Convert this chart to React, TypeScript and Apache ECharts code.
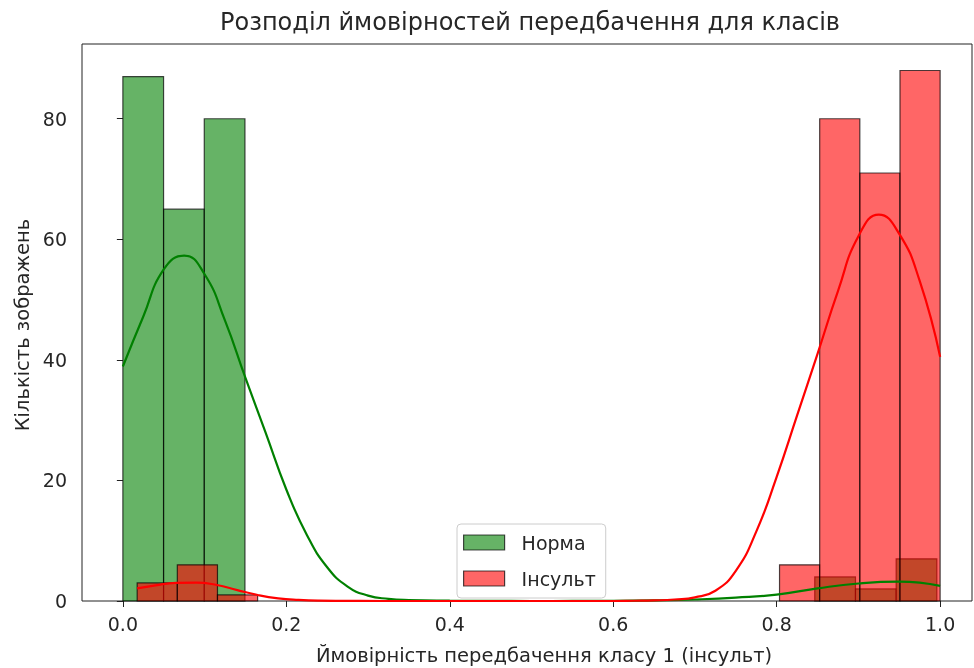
import React, { useEffect, useRef } from "react";
import * as echarts from "echarts";

// Histogram bins (counts) per class
const greenBinStart = 0;
const greenBinWidth = 0.0498;
const greenCounts = [87, 65, 80, 0, 0, 0, 0, 0, 0, 0, 0, 0, 0, 0, 0, 0, 0, 4, 2, 7];

const redBinStart = 0.0175;
const redBinWidth = 0.049125;
const redCounts = [3, 6, 1, 0, 0, 0, 0, 0, 0, 0, 0, 0, 0, 0, 0, 0, 6, 80, 71, 88];

// KDE curves
const greenKde: [number, number][] = [
  [0, 38.9], [0.025, 47.2], [0.05, 55.0], [0.075, 57.3], [0.1, 54.2], [0.125, 46.5],
  [0.15, 37.0], [0.175, 27.8], [0.2, 18.5], [0.225, 11.0], [0.25, 5.6], [0.275, 2.4],
  [0.3, 0.9], [0.325, 0.35], [0.35, 0.15], [0.4, 0.05], [0.45, 0.02], [0.5, 0], [0.55, 0.01],
  [0.6, 0.03], [0.65, 0.1], [0.7, 0.25], [0.75, 0.55], [0.8, 1.05], [0.85, 2.1], [0.9, 2.9],
  [0.95, 3.2], [1.0, 2.5],
];
const redKde: [number, number][] = [
  [0.0175, 2.1], [0.04, 2.6], [0.065, 3.0], [0.09, 3.05], [0.115, 2.65], [0.14, 1.8],
  [0.165, 1.0], [0.19, 0.45], [0.215, 0.18], [0.24, 0.06], [0.29, 0.01], [0.35, 0], [0.6, 0],
  [0.625, 0.04], [0.65, 0.1], [0.675, 0.25], [0.7, 0.6], [0.725, 1.7], [0.75, 5.0], [0.775, 11.5],
  [0.8, 20.6], [0.825, 30.8], [0.85, 41.0], [0.875, 51.4], [0.9, 60.5], [0.925, 64.1],
  [0.95, 60.9], [0.975, 53.1], [1.0, 40.5],
];

const xTicks = [0, 0.2, 0.4, 0.6, 0.8, 1.0];
const yTicks = [0, 20, 40, 60, 80];

const titleText = "Розподіл ймовірностей передбачення для класів";
const xLabel = "Ймовірність передбачення класу 1 (інсульт)";
const yLabel = "Кількість зображень";
const classNames = ["Норма", "Інсульт"];

const FONT = "DejaVu Sans";
const GREEN_FILL = "rgba(0,128,0,0.6)";
const RED_FILL = "rgba(255,0,0,0.6)";
const EDGE = "rgba(0,0,0,0.7)";
const TEXT = "#262626";

function bins(start: number, width: number, counts: number[]) {
  return counts
    .map((c, i) => [start + i * width, start + (i + 1) * width, c])
    .filter((d) => d[2] > 0);
}

function barSeries(name: string, data: number[][], fill: string) {
  return {
    type: "custom",
    name,
    data,
    encode: { x: [0, 1], y: 2 },
    itemStyle: { color: fill, borderColor: EDGE, borderWidth: 1.2 },
    renderItem: (params: any, api: any) => {
      const a = api.coord([api.value(0), api.value(2)]);
      const b = api.coord([api.value(1), 0]);
      return {
        type: "rect",
        shape: { x: a[0], y: a[1], width: b[0] - a[0], height: b[1] - a[1] },
        style: { fill, stroke: EDGE, lineWidth: 1.2 },
      };
    },
  };
}

export default function App() {
  const ref = useRef<HTMLDivElement>(null);
  useEffect(() => {
    if (!ref.current) return;
    const chart = echarts.init(ref.current, undefined, { renderer: "svg" });
    const axisText = { color: TEXT, fontFamily: FONT, fontSize: 19 };
    chart.setOption({
      animation: false,
      grid: {
        left: 82, right: 2, top: 44, bottom: 67,
        show: true, borderColor: "#222", borderWidth: 1, backgroundColor: "transparent",
      },
      xAxis: {
        type: "value", min: -0.05, max: 1.039,
        axisLine: { show: false },
        splitLine: { show: false },
        axisTick: { show: true, length: 6, customValues: xTicks, lineStyle: { color: "#222" } },
        axisLabel: { ...axisText, customValues: xTicks, margin: 13, formatter: (v: number) => v.toFixed(1) },
      },
      yAxis: {
        type: "value", min: 0, max: 92.4,
        axisLine: { show: false },
        splitLine: { show: false },
        axisTick: { show: true, length: 6, customValues: yTicks, lineStyle: { color: "#222" } },
        axisLabel: { ...axisText, customValues: yTicks, margin: 15 },
      },
      legend: {
        orient: "vertical",
        left: 457, top: 524,
        padding: [9, 10, 10, 6],
        itemWidth: 41, itemHeight: 15, itemGap: 17,
        backgroundColor: "rgba(255,255,255,0.8)",
        borderColor: "#cccccc", borderWidth: 1, borderRadius: 4,
        textStyle: { ...axisText, lineHeight: 15, padding: [0, 0, 0, 12] },
        data: [
          { name: classNames[0], icon: "rect", itemStyle: { color: GREEN_FILL, borderColor: EDGE, borderWidth: 1.2 } },
          { name: classNames[1], icon: "rect", itemStyle: { color: RED_FILL, borderColor: EDGE, borderWidth: 1.2 } },
        ],
      },
      graphic: [
        { type: "text", x: 530, y: 22, style: { text: titleText, fontFamily: FONT, fontSize: 24, fill: TEXT, align: "center", verticalAlign: "middle" } },
        { type: "text", x: 544, y: 655, style: { text: xLabel, fontFamily: FONT, fontSize: 19.5, fill: TEXT, align: "center", verticalAlign: "middle" } },
        { type: "text", x: 22, y: 325, rotation: Math.PI / 2, style: { text: yLabel, fontFamily: FONT, fontSize: 19.5, fill: TEXT, align: "center", verticalAlign: "middle" } },
      ],
      series: [
        barSeries(classNames[0], bins(greenBinStart, greenBinWidth, greenCounts), GREEN_FILL),
        barSeries(classNames[1], bins(redBinStart, redBinWidth, redCounts), RED_FILL),
        {
          type: "line", name: "kde0", data: greenKde, smooth: 0.5, showSymbol: false,
          lineStyle: { color: "#008000", width: 2.2 }, itemStyle: { color: "#008000" },
        },
        {
          type: "line", name: "kde1", data: redKde, smooth: 0.5, showSymbol: false,
          lineStyle: { color: "#ff0000", width: 2.2 }, itemStyle: { color: "#ff0000" },
        },
      ],
    });
    return () => chart.dispose();
  }, []);
  return <div ref={ref} style={{ position: "fixed", left: 0, top: 0, width: 974, height: 668 }} />;
}
